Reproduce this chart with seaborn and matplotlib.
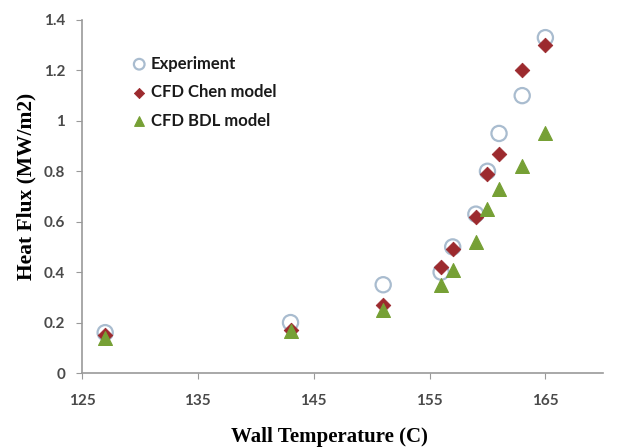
import matplotlib
matplotlib.use("Agg")
import matplotlib.pyplot as plt
import seaborn as sns
import pandas as pd

temps = [127, 143, 151, 156, 157, 159, 160, 161, 163, 165]
experiment = [0.16, 0.20, 0.35, 0.40, 0.50, 0.63, 0.80, 0.95, 1.10, 1.33]
chen = [0.15, 0.17, 0.27, 0.42, 0.49, 0.62, 0.79, 0.87, 1.20, 1.30]
bdl = [0.14, 0.165, 0.25, 0.35, 0.41, 0.52, 0.65, 0.73, 0.82, 0.95]
series_names = ["Experiment", "CFD Chen model", "CFD BDL model"]
x_ticks = [125, 135, 145, 155, 165]
y_ticks = [0, 0.2, 0.4, 0.6, 0.8, 1, 1.2, 1.4]
y_tick_labels = ["0", "0.2", "0.4", "0.6", "0.8", "1", "1.2", "1.4"]

sns.set_style("white")
plt.rcParams['font.family'] = ['Lato', 'DejaVu Sans']

df = pd.DataFrame({
    "T": temps * 3,
    "q": experiment + chen + bdl,
    "series": [series_names[0]] * len(temps) + [series_names[1]] * len(temps) + [series_names[2]] * len(temps),
})

fig = plt.figure(figsize=(6.18, 4.48), dpi=100)
ax = fig.add_axes([0.1327, 0.1674, 0.8435, 0.788])

sns.scatterplot(data=df[df.series == series_names[0]], x="T", y="q", ax=ax,
                marker="o", s=120, facecolor="none", edgecolor="#a9bccf", linewidth=1.6,
                label=series_names[0], zorder=2)
sns.scatterplot(data=df[df.series == series_names[1]], x="T", y="q", ax=ax,
                marker="D", s=55, color="#9c2a2e", edgecolor="#9c2a2e",
                label=series_names[1], zorder=3)
sns.scatterplot(data=df[df.series == series_names[2]], x="T", y="q", ax=ax,
                marker="^", s=100, color="#76a035", edgecolor="#76a035",
                label=series_names[2], zorder=4)

ax.set_xlim(125, 170)
ax.set_ylim(0, 1.4)
ax.set_xticks(x_ticks)
ax.set_yticks(y_ticks)
ax.set_yticklabels(y_tick_labels)
ax.tick_params(axis="both", labelsize=11, colors="#999999", length=4, width=0.8,
               direction="out", bottom=True, left=True)
ax.tick_params(axis="y", pad=8)
ax.tick_params(axis="x", pad=11)
for lab in ax.get_xticklabels() + ax.get_yticklabels():
    lab.set_color("#4a4a4a")
    lab.set_fontweight("bold")
for s in ["top", "right"]:
    ax.spines[s].set_visible(False)
for s in ["left", "bottom"]:
    ax.spines[s].set_color("#9a9a9a")
    ax.spines[s].set_linewidth(1.2)

ax.set_xlabel("Wall Temperature (C)", fontfamily="Liberation Serif", fontweight="bold",
              fontsize=15, color="black")
ax.set_ylabel("Heat Flux (MW/m2)", fontfamily="Liberation Serif", fontweight="bold",
              fontsize=15.5, color="black")
ax.xaxis.label.set_va("center")
ax.xaxis.set_label_coords(0.475, -0.18)
ax.yaxis.set_label_coords(-0.087, 0.53)

leg = ax.legend(loc="upper left", bbox_to_anchor=(0.065, 0.918), frameon=False,
                fontsize=12, handletextpad=-0.3, labelspacing=0.75, borderaxespad=0,
                markerscale=0.7)
for t in leg.get_texts():
    t.set_fontweight("bold")
    t.set_color("#1a1a1a")

fig.savefig("out.png", dpi=100)
